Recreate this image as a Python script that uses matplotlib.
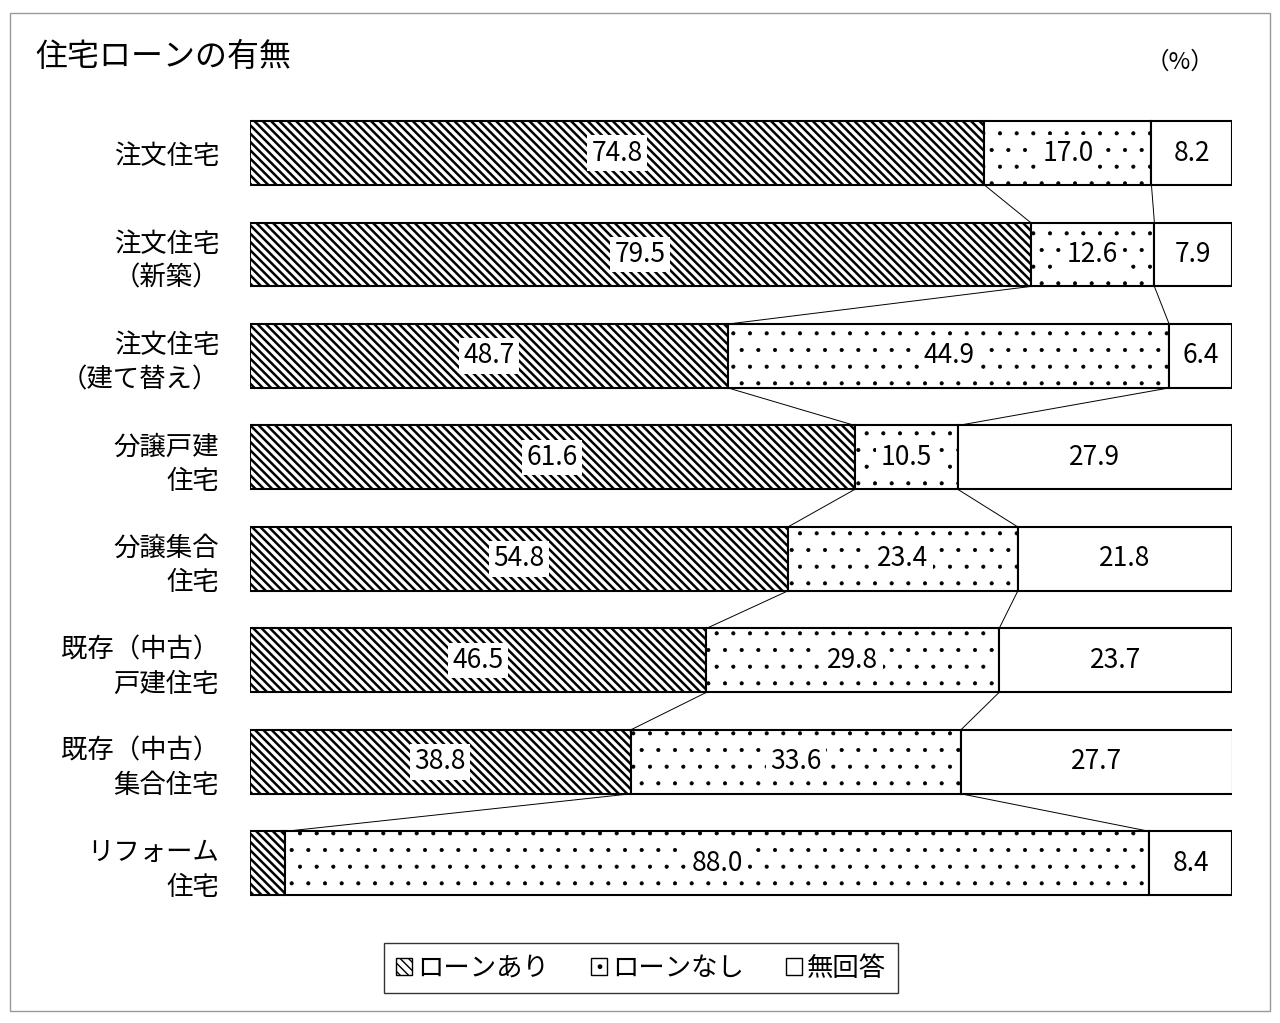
import matplotlib.pyplot as plt
from matplotlib.patches import Patch, Rectangle
import numpy as np

plt.rcParams['font.family'] = 'Noto Sans CJK JP'

categories = ['注文住宅', '注文住宅\n（新築）', '注文住宅\n（建て替え）', '分譲戸建\n住宅',
              '分譲集合\n住宅', '既存（中古）\n戸建住宅', '既存（中古）\n集合住宅', 'リフォーム\n住宅']
loan_yes = [74.8, 79.5, 48.7, 61.6, 54.8, 46.5, 38.8, 3.6]
loan_no = [17.0, 12.6, 44.9, 10.5, 23.4, 29.8, 33.6, 88.0]
no_answer = [8.2, 7.9, 6.4, 27.9, 21.8, 23.7, 27.7, 8.4]
series_names = ['ローンあり', 'ローンなし', '無回答']

fig = plt.figure(figsize=(12.8, 10.23), dpi=100)
ax = fig.add_axes([0.195, 0.1065, 0.7675, 0.7935])
fig.patches.append(Rectangle((10/1280, 12/1023), 1260/1280, 998/1023, transform=fig.transFigure,
                             fill=False, edgecolor='#999999', lw=1))

y = np.arange(len(categories))
h = 0.63
yes = np.array(loan_yes); no = np.array(loan_no); na = np.array(no_answer)
plt.rcParams['hatch.linewidth'] = 1.8
ax.barh(y, yes, h, color='white', edgecolor='black', hatch='\\\\\\\\', lw=1.5)
plt.rcParams['hatch.linewidth'] = 0.5
ax.barh(y, no, h, left=yes, color='white', edgecolor='black', hatch='.', lw=1.5)
ax.barh(y, na, h, left=yes + no, color='white', edgecolor='black', lw=1.5)

box = dict(facecolor='white', edgecolor='none', pad=3)
for i in range(len(categories)):
    if yes[i] > 10:
        ax.text(yes[i] / 2, y[i], f'{yes[i]:.1f}', ha='center', va='center', fontsize=19, bbox=box)
    ax.text(yes[i] + no[i] / 2, y[i], f'{no[i]:.1f}', ha='center', va='center', fontsize=19, bbox=box)
    ax.text(yes[i] + no[i] + na[i] / 2, y[i], f'{na[i]:.1f}', ha='center', va='center', fontsize=19,
            bbox=box)

# connector lines between bars
for i in range(len(categories) - 1):
    for a, b in [(yes[i], yes[i + 1]), (yes[i] + no[i], yes[i + 1] + no[i + 1])]:
        ax.plot([a, b], [y[i] + h / 2, y[i + 1] - h / 2], color='black', lw=0.7)
    ax.plot([100, 100], [y[i] + h / 2, y[i + 1] - h / 2], color='black', lw=0.7)

ax.set_xlim(0, 100)
ax.set_ylim(len(categories) - 0.5, -0.5)
ax.set_yticks(y)
ax.set_yticklabels(categories, fontsize=19, ha='right', multialignment='right', linespacing=1.35)
ax.tick_params(axis='y', length=0, pad=22)
ax.set_xticks([])
for s in ax.spines.values():
    s.set_visible(False)

fig.text(35/1280, 1 - 57/1023, '住宅ローンの有無', fontsize=23, va='center')
fig.text(1180/1280, 1 - 62/1023, '（%）', fontsize=17, va='center', ha='center')

plt.rcParams['hatch.linewidth'] = 1.0
handles = [Patch(facecolor='white', edgecolor='black', hatch='\\\\\\\\'),
           Patch(facecolor='white', edgecolor='black', hatch='.'),
           Patch(facecolor='white', edgecolor='black')]
leg = fig.legend(handles, series_names, loc='center', bbox_to_anchor=(641/1280, 1 - 968/1023),
                 ncol=3, fontsize=19, fancybox=False, edgecolor='black', handlelength=0.6,
                 handleheight=0.6, handletextpad=0.2, columnspacing=1.6, borderpad=0.45,
                 borderaxespad=0)
leg.get_frame().set_linewidth(1)

plt.savefig('out.png', dpi=100)
